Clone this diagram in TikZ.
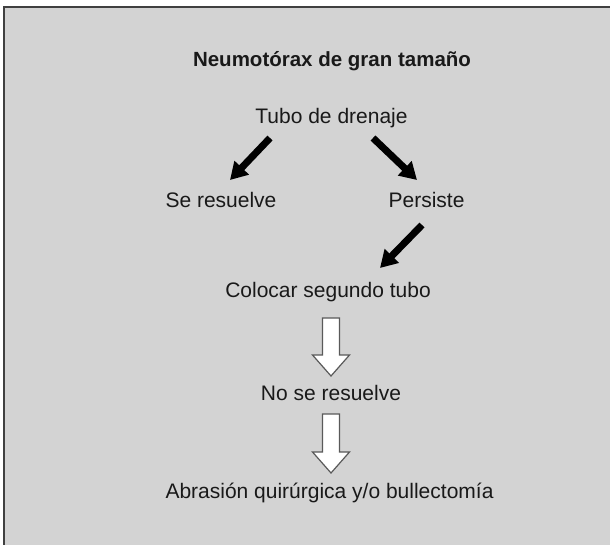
\documentclass[tikz,border=0pt]{standalone}
\usepackage{fontspec}
\setmainfont{Liberation Sans}
\usetikzlibrary{arrows.meta}
\definecolor{bggray}{RGB}{211,211,211}
\definecolor{framegray}{RGB}{64,64,64}
\definecolor{txt}{RGB}{25,25,25}
\tikzset{
  x=1pt, y=-1pt,
  lbl/.style={anchor=base, inner sep=0pt, text=txt, font=\fontsize{21}{25}\selectfont},
  ttl/.style={anchor=base, inner sep=0pt, text=txt, font=\fontsize{20.5}{24}\selectfont\bfseries},
  blackarrow/.style={line width=7pt, draw=black, -{Triangle[width=19pt,length=17pt]}},
  hollowdown/.pic={
    \draw[fill=white, draw=black!65, line width=1.2pt, line join=miter]
      (-8.5,0) -- (8.5,0) -- (8.5,#1) -- (18.5,#1) -- (0,#1+21) -- (-18.5,#1) -- (-8.5,#1) -- cycle;
  }
}
\begin{document}
\begin{tikzpicture}
\useasboundingbox (0,0) rectangle (610,545);
\fill[bggray] (4,7) rectangle (610,545);
\draw[framegray, line width=2pt] (4,545) -- (4,7.5) -- (610,7.5);

\node[ttl] (title) at (332,67) {Neumotórax de gran tamaño};
\node[lbl] (tubo) at (331.5,124) {Tubo de drenaje};
\node[lbl] (resuelve) at (221,208) {Se resuelve};
\node[lbl] (persiste) at (426.5,208) {Persiste};
\node[lbl] (colocar) at (328,297) {Colocar segundo tubo};
\node[lbl] (nores) at (331,400) {No se resuelve};
\node[lbl] (abrasion) at (329.5,498) {Abrasión quirúrgica y/o bullectomía};

\coordinate (a1s) at (270,138);
\coordinate (a1e) at (230,180);
\coordinate (a2s) at (373,138);
\coordinate (a2e) at (417,180);
\coordinate (a3s) at (422,225);
\coordinate (a3e) at (380,268);
\draw[blackarrow] (a1s) -- (a1e);
\draw[blackarrow] (a2s) -- (a2e);
\draw[blackarrow] (a3s) -- (a3e);

\coordinate (h1) at (331,318);
\coordinate (h2) at (331,414);
\pic at (h1) {hollowdown=37};
\pic at (h2) {hollowdown=38};
\end{tikzpicture}
\end{document}
